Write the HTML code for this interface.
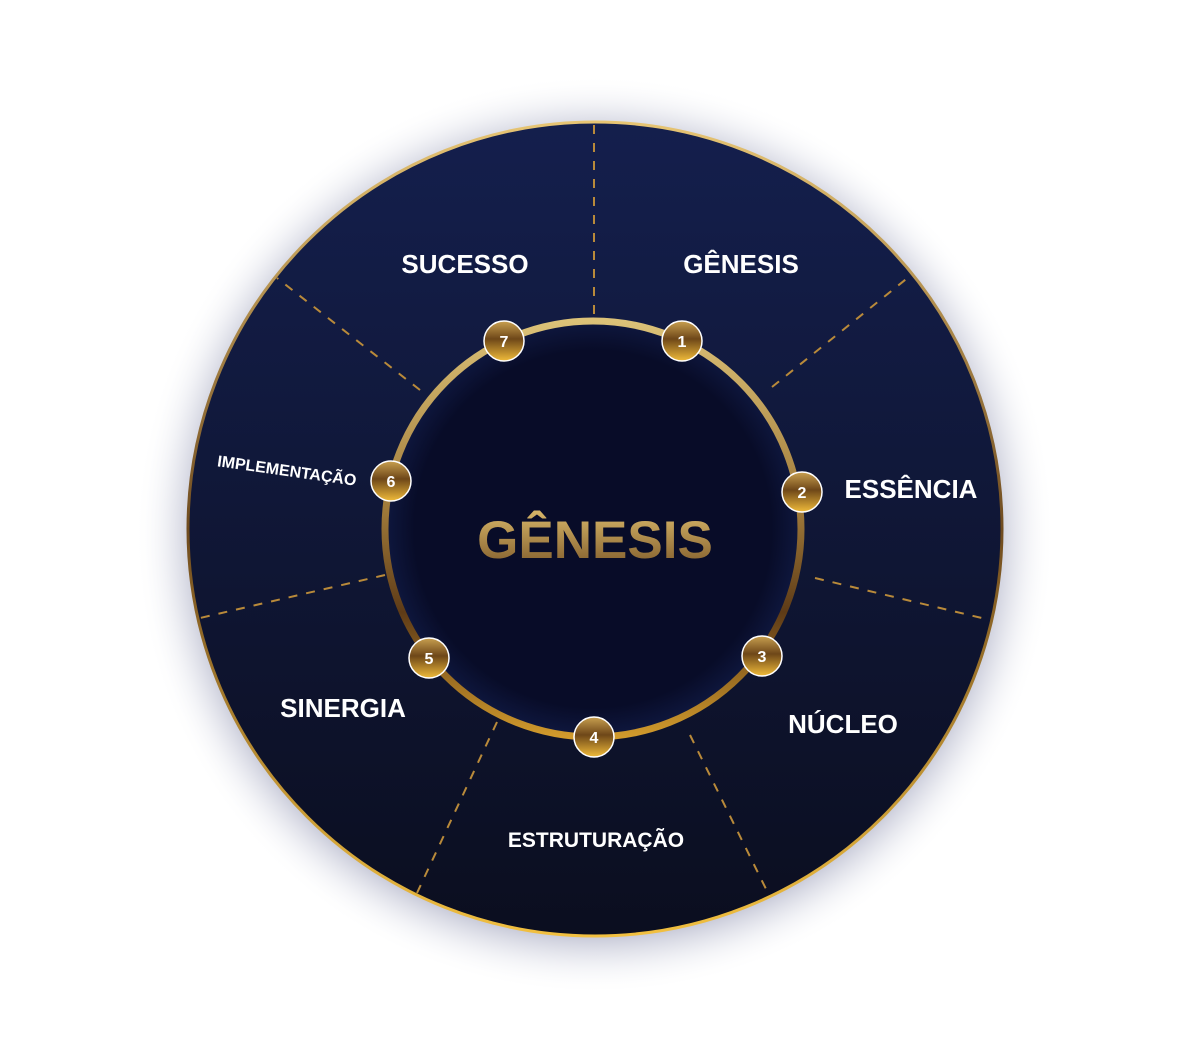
<!DOCTYPE html>
<html><head><style>
html,body{margin:0;padding:0;background:#fff;}
svg{display:block;}
text{font-family:"Liberation Sans",sans-serif;font-weight:bold;}
</style></head><body>
<svg width="1190" height="1058" viewBox="0 0 1190 1058" xmlns="http://www.w3.org/2000/svg">
<defs>
<radialGradient id="glow" cx="595" cy="535" r="460" gradientUnits="userSpaceOnUse">
<stop offset="0.86" stop-color="#5a5f8a" stop-opacity="0.4"/>
<stop offset="0.94" stop-color="#9a9fbb" stop-opacity="0.12"/>
<stop offset="1" stop-color="#ffffff" stop-opacity="0"/>
</radialGradient>
<linearGradient id="bg" x1="0" y1="0" x2="0" y2="1">
<stop offset="0" stop-color="#141f4d"/>
<stop offset="1" stop-color="#0b0e1f"/>
</linearGradient>
<radialGradient id="inner" cx="593" cy="529" r="210" gradientUnits="userSpaceOnUse">
<stop offset="0.85" stop-color="#080c28"/>
<stop offset="1" stop-color="#0f1840"/>
</radialGradient>
<linearGradient id="border" x1="0" y1="0" x2="0" y2="1">
<stop offset="0" stop-color="#e7c574"/>
<stop offset="0.5" stop-color="#6f4b1f"/>
<stop offset="1" stop-color="#f2c040"/>
</linearGradient>
<linearGradient id="ring" x1="0" y1="0" x2="0" y2="1">
<stop offset="0" stop-color="#dcc278"/>
<stop offset="0.45" stop-color="#a07a3a"/>
<stop offset="0.7" stop-color="#5e3b17"/>
<stop offset="1" stop-color="#d19a2c"/>
</linearGradient>
<linearGradient id="node" x1="0" y1="0" x2="0" y2="1">
<stop offset="0" stop-color="#c9a050"/>
<stop offset="0.45" stop-color="#6e4718"/>
<stop offset="1" stop-color="#f0bb3a"/>
</linearGradient>
<linearGradient id="title" x1="0" y1="0" x2="0" y2="1">
<stop offset="0" stop-color="#d9b86a"/>
<stop offset="1" stop-color="#7e5a2a"/>
</linearGradient>
</defs>
<circle cx="595" cy="530" r="460" fill="url(#glow)"/>
<circle cx="595" cy="529" r="407" fill="url(#bg)" stroke="url(#border)" stroke-width="3"/>
<circle cx="593" cy="529" r="208" fill="url(#inner)"/>
<g stroke="#b98a3a" stroke-width="2" stroke-dasharray="9 9" fill="none">
<line x1="594" y1="125" x2="594" y2="320"/>
<line x1="772" y1="387" x2="910" y2="276"/>
<line x1="815" y1="578" x2="990" y2="620"/>
<line x1="690" y1="735" x2="768" y2="893"/>
<line x1="497" y1="722" x2="417" y2="893"/>
<line x1="385" y1="575" x2="200" y2="618"/>
<line x1="420" y1="390" x2="277" y2="278"/>
</g>
<circle cx="593" cy="529" r="208" fill="none" stroke="url(#ring)" stroke-width="7"/>
<g fill="#fff" font-size="26" text-anchor="middle">
<text x="465" y="273">SUCESSO</text>
<text x="741" y="273">GÊNESIS</text>
<text x="911" y="498">ESSÊNCIA</text>
<text x="843" y="733">NÚCLEO</text>
<text x="343" y="717">SINERGIA</text>
<text x="596" y="847" font-size="21">ESTRUTURAÇÃO</text>
<text x="287" y="476" font-size="16" transform="rotate(8 287 470)">IMPLEMENTAÇÃO</text>
</g>
<text x="595" y="558" font-size="53" text-anchor="middle" fill="url(#title)">GÊNESIS</text>
<g stroke="#fff" stroke-width="1.5" fill="url(#node)">
<circle cx="682" cy="341" r="20"/><circle cx="802" cy="492" r="20"/><circle cx="762" cy="656" r="20"/>
<circle cx="594" cy="737" r="20"/><circle cx="429" cy="658" r="20"/><circle cx="391" cy="481" r="20"/>
<circle cx="504" cy="341" r="20"/>
</g>
<g fill="#fff" font-size="16" text-anchor="middle">
<text x="682" y="347">1</text><text x="802" y="498">2</text><text x="762" y="662">3</text>
<text x="594" y="743">4</text><text x="429" y="664">5</text><text x="391" y="487">6</text>
<text x="504" y="347">7</text>
</g>
</svg>
</body></html>
